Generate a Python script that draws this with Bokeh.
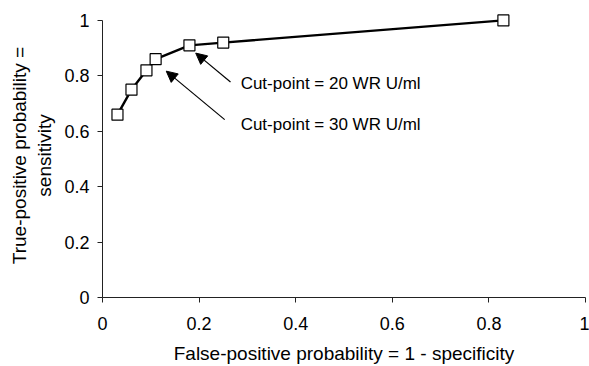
from bokeh.plotting import figure
from bokeh.models import Arrow, NormalHead, Range1d, FixedTicker
from bokeh.core.properties import value
from bokeh.embed import file_html
from bokeh.resources import INLINE

# ROC curve data
fpr = [0.031, 0.06, 0.091, 0.11, 0.18, 0.25, 0.83]
tpr = [0.66, 0.75, 0.82, 0.86, 0.91, 0.92, 1.0]
ticks = [0, 0.2, 0.4, 0.6, 0.8, 1]
tick_labels = {0: "0", 0.2: "0.2", 0.4: "0.4", 0.6: "0.6", 0.8: "0.8", 1: "1"}

# annotations
ann_texts = ["Cut-point = 20 WR U/ml", "Cut-point = 30 WR U/ml"]
ann_tx = [0.286, 0.286]
ann_ty = [0.771, 0.624]
arr_x0 = [0.265, 0.253]
arr_y0 = [0.778, 0.642]
arr_x1 = [0.193, 0.132]
arr_y1 = [0.882, 0.817]

FONT = "Liberation Sans"

p = figure(width=589, height=366, output_backend="svg", toolbar_location=None,
           x_range=Range1d(0, 1), y_range=Range1d(0, 1.025))
p.min_border_left = 102
p.min_border_right = 4
p.min_border_top = 13
p.min_border_bottom = 67
p.outline_line_color = None
p.xgrid.visible = False
p.ygrid.visible = False

for ax in (p.xaxis[0], p.yaxis[0]):
    ax.ticker = FixedTicker(ticks=ticks)
    ax.bounds = (0, 1)
    ax.major_label_overrides = tick_labels
    ax.minor_tick_line_color = None
    ax.major_tick_in = 0
    ax.major_tick_out = 5
    ax.axis_line_color = "#222222"
    ax.major_tick_line_color = "#222222"
    ax.major_label_text_font = FONT
    ax.major_label_text_font_size = "18px"
    ax.major_label_text_color = "black"
    ax.axis_label_text_font = FONT
    ax.axis_label_text_font_size = "19px"
    ax.axis_label_text_font_style = "normal"
    ax.axis_label_text_color = "black"

p.xaxis.axis_label = "False-positive probability = 1 - specificity"
p.yaxis.axis_label = "True-positive probability =\nsensitivity"
p.xaxis.major_label_standoff = 14
p.yaxis.major_label_standoff = 8
p.xaxis.axis_label_standoff = 10
p.yaxis.axis_label_standoff = 6

p.line(fpr, tpr, line_color="black", line_width=2.4)
p.scatter(fpr, tpr, marker="square", size=11, fill_color="white",
          line_color="black", line_width=1.2)

for i in range(2):
    p.add_layout(Arrow(end=NormalHead(size=11, fill_color="black", line_color="black",
                                      line_width=1),
                       x_start=arr_x0[i], y_start=arr_y0[i],
                       x_end=arr_x1[i], y_end=arr_y1[i],
                       line_color="black", line_width=1.2))

p.text(x=ann_tx, y=ann_ty, text=ann_texts, text_font=value(FONT),
       text_font_size="17px", text_baseline="middle", text_align="left",
       text_color="black")

open("out.html", "w").write(file_html(p, INLINE))
